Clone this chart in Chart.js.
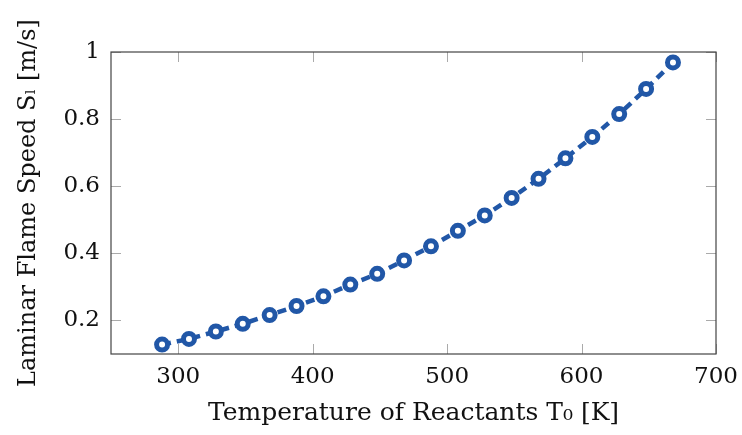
<!DOCTYPE html>
<html>
<head>
<meta charset="utf-8">
<script src="https://cdn.jsdelivr.net/npm/chart.js@4.4.1/dist/chart.umd.min.js"></script>
<style>
  html, body { margin: 0; padding: 0; background: #fff; }
  #wrap { width: 742px; height: 435px; }
</style>
</head>
<body>
<div id="wrap"><canvas id="flameChart"></canvas></div>
<script>
// datos
const temperaturas = [288, 308, 328, 348, 368, 388, 408, 428, 448, 468,
                      488, 508, 528, 548, 568, 588, 608, 628, 648, 668];
const velocidades = [0.128, 0.145, 0.167, 0.190, 0.216, 0.243, 0.272, 0.307, 0.339, 0.379,
                     0.421, 0.467, 0.513, 0.565, 0.622, 0.683, 0.747, 0.815, 0.890, 0.969];
const ticksX = [300, 400, 500, 600, 700];
const ticksY = [0.2, 0.4, 0.6, 0.8, 1.0];

const azul = '#2157a7';
const fuente = "'DejaVu Serif', 'Liberation Serif', serif";

// marco y marcas hacia adentro (estilo pgfplots)
const marcoPlugin = {
    id: 'marco',
    afterDraw(chart) {
        const { ctx, chartArea: a, scales } = chart;
        ctx.save();
        ctx.strokeStyle = '#aaa';
        ctx.lineWidth = 1;
        const len = 10;
        ticksX.forEach(v => {
            const x = Math.round(scales.x.getPixelForValue(v)) + 0.5;
            ctx.beginPath();
            ctx.moveTo(x, a.bottom); ctx.lineTo(x, a.bottom - len);
            ctx.moveTo(x, a.top); ctx.lineTo(x, a.top + len);
            ctx.stroke();
        });
        ticksY.forEach(v => {
            const y = Math.round(scales.y.getPixelForValue(v)) + 0.5;
            ctx.beginPath();
            ctx.moveTo(a.left, y); ctx.lineTo(a.left + len, y);
            ctx.moveTo(a.right, y); ctx.lineTo(a.right - len, y);
            ctx.stroke();
        });
        ctx.strokeStyle = '#444';
        ctx.lineWidth = 1.2;
        ctx.strokeRect(a.left, a.top, a.right - a.left, a.bottom - a.top);
        ctx.restore();
    }
};

new Chart(document.getElementById('flameChart'), {
    type: 'line',
    data: {
        datasets: [{
            data: temperaturas.map((t, i) => ({ x: t, y: velocidades[i] })),
            borderColor: azul,
            borderWidth: 4.5,
            borderDash: [9, 6],
            pointStyle: 'circle',
            pointRadius: 5.5,
            pointBorderWidth: 5,
            pointBackgroundColor: '#fff',
            pointBorderColor: azul,
            tension: 0,
            fill: false
        }]
    },
    options: {
        responsive: true,
        maintainAspectRatio: false,
        animation: false,
        layout: { padding: { top: 52, right: 26, left: 0, bottom: 0 } },
        plugins: {
            legend: { display: false },
            tooltip: { enabled: false }
        },
        scales: {
            x: {
                type: 'linear',
                min: 250,
                max: 700,
                afterBuildTicks: axis => { axis.ticks = ticksX.map(v => ({ value: v })); },
                afterFit: axis => {
                    axis.height = 81;
                    axis.paddingLeft = 0;
                    axis.paddingRight = 0;
                },
                grid: { display: false, drawTicks: false },
                border: { display: false },
                ticks: {
                    color: '#111',
                    padding: 9,
                    font: { family: fuente, size: 23 }
                },
                title: {
                    display: true,
                    text: 'Temperature of Reactants T₀ [K]',
                    color: '#111',
                    padding: { top: 0, bottom: 7 },
                    font: { family: fuente, size: 25 }
                }
            },
            y: {
                type: 'linear',
                min: 0.1,
                max: 1.0,
                afterBuildTicks: axis => { axis.ticks = ticksY.map(v => ({ value: v })); },
                afterFit: axis => {
                    axis.width = 111;
                    axis.paddingTop = 0;
                    axis.paddingBottom = 0;
                },
                grid: { display: false, drawTicks: false },
                border: { display: false },
                ticks: {
                    color: '#111',
                    padding: 11,
                    font: { family: fuente, size: 23 },
                    callback: function(value) {
                        return Number(value.toFixed(1)).toString();
                    }
                },
                title: {
                    display: true,
                    text: 'Laminar Flame Speed Sₗ [m/s]',
                    color: '#111',
                    padding: { top: 14, bottom: 0 },
                    font: { family: fuente, size: 24 }
                }
            }
        }
    },
    plugins: [marcoPlugin]
});
</script>
</body>
</html>
